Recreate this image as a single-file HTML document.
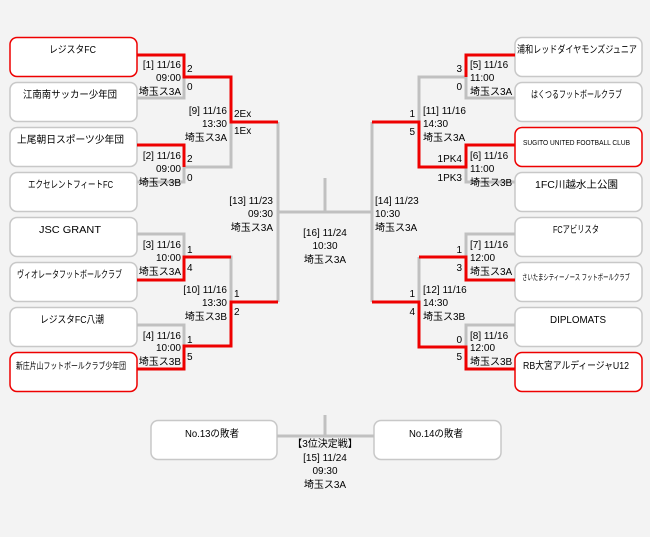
<!DOCTYPE html>
<html><head><meta charset="utf-8"><style>
html,body{margin:0;padding:0;background:#f3f3f3;}
svg{display:block;font-family:"Liberation Sans","Noto Sans CJK JP",sans-serif;font-size:10px;fill:#000;}
.b{fill:#fff;stroke:#c8c8c8;stroke-width:1.5}
.r{fill:#fff;stroke:#ee0000;stroke-width:1.5}
.g{stroke:#c0c0c0;stroke-width:3;fill:none}
.d{stroke:#ee0000;stroke-width:3;fill:none}
.e{text-anchor:end}.m{text-anchor:middle}
</style></head><body>
<svg width="650" height="537" xmlns="http://www.w3.org/2000/svg">
<rect class="r" x="10" y="37.5" width="127" height="39" rx="7"/>
<rect class="b" x="10" y="82.5" width="127" height="39" rx="7"/>
<rect class="b" x="10" y="127.5" width="127" height="39" rx="7"/>
<rect class="b" x="10" y="172.5" width="127" height="39" rx="7"/>
<rect class="b" x="10" y="217.5" width="127" height="39" rx="7"/>
<rect class="b" x="10" y="262.5" width="127" height="39" rx="7"/>
<rect class="b" x="10" y="307.5" width="127" height="39" rx="7"/>
<rect class="r" x="10" y="352.5" width="127" height="39" rx="7"/>
<rect class="b" x="515" y="37.5" width="127" height="39" rx="7"/>
<rect class="b" x="515" y="82.5" width="127" height="39" rx="7"/>
<rect class="r" x="515" y="127.5" width="127" height="39" rx="7"/>
<rect class="b" x="515" y="172.5" width="127" height="39" rx="7"/>
<rect class="b" x="515" y="217.5" width="127" height="39" rx="7"/>
<rect class="b" x="515" y="262.5" width="127" height="39" rx="7"/>
<rect class="b" x="515" y="307.5" width="127" height="39" rx="7"/>
<rect class="r" x="515" y="352.5" width="127" height="39" rx="7"/>
<rect class="b" x="151" y="420.5" width="126" height="39" rx="7"/>
<rect class="b" x="374" y="420.5" width="127" height="39" rx="7"/>

<path class="g" d="M137 98H184V77"/>
<path class="g" d="M137 182H184V167"/>
<path class="g" d="M137 234H184V257"/>
<path class="g" d="M137 325H184V346"/>
<path class="g" d="M184 167H231V122"/>
<path class="g" d="M184 257H231V302"/>
<path class="g" d="M278 122V302"/>
<path class="g" d="M278 212H372"/>
<path class="g" d="M325 178V212"/>
<path class="d" d="M137 55H184V77H231V122H278"/>
<path class="d" d="M137 145H184V167"/>
<path class="d" d="M137 280H184V257H231"/>
<path class="d" d="M137 369H184V346H231V302H278"/>
<path class="g" d="M515 98H466V77"/>
<path class="g" d="M515 182H466V167"/>
<path class="g" d="M515 234H466V257"/>
<path class="g" d="M515 325H466V346"/>
<path class="g" d="M466 77H419V122"/>
<path class="g" d="M419 257V302"/>
<path class="g" d="M372 122V302"/>
<path class="d" d="M515 55H466V77"/>
<path class="d" d="M515 145H466V167H419V122H372"/>
<path class="d" d="M515 280H466V257H419"/>
<path class="d" d="M515 369H466V347H419V302H372"/>
<path class="g" d="M277 436H374"/>
<path class="g" d="M325 415V436"/>

<text x="49" y="53" textLength="47" lengthAdjust="spacingAndGlyphs">レジスタFC</text>
<text x="23" y="98" textLength="94" lengthAdjust="spacingAndGlyphs">江南南サッカー少年団</text>
<text x="17" y="143" textLength="107" lengthAdjust="spacingAndGlyphs">上尾朝日スポーツ少年団</text>
<text x="28" y="188" textLength="85" lengthAdjust="spacingAndGlyphs">エクセレントフィートFC</text>
<text x="39" y="233" textLength="62" lengthAdjust="spacingAndGlyphs">JSC GRANT</text>
<text x="17" y="278" textLength="105" lengthAdjust="spacingAndGlyphs">ヴィオレータフットボールクラブ</text>
<text x="40" y="323" textLength="64" lengthAdjust="spacingAndGlyphs">レジスタFC八潮</text>
<text x="16" y="369" font-size="9" textLength="110" lengthAdjust="spacingAndGlyphs">新庄片山フットボールクラブ少年団</text>
<text x="517" y="53" textLength="120" lengthAdjust="spacingAndGlyphs">浦和レッドダイヤモンズジュニア</text>
<text x="531" y="98" textLength="91" lengthAdjust="spacingAndGlyphs">はくつるフットボールクラブ</text>
<text x="523" y="145" font-size="7" textLength="107" lengthAdjust="spacingAndGlyphs">SUGITO UNITED FOOTBALL CLUB</text>
<text x="535" y="188" textLength="83" lengthAdjust="spacingAndGlyphs">1FC川越水上公園</text>
<text x="553" y="233" textLength="46" lengthAdjust="spacingAndGlyphs">FCアビリスタ</text>
<text x="522" y="280" font-size="8" textLength="108" lengthAdjust="spacingAndGlyphs">さいたまシティーノース フットボールクラブ</text>
<text x="550" y="323" textLength="56" lengthAdjust="spacingAndGlyphs">DIPLOMATS</text>
<text x="523" y="369" textLength="106" lengthAdjust="spacingAndGlyphs">RB大宮アルディージャU12</text>
<text x="185" y="437" textLength="54" lengthAdjust="spacingAndGlyphs">No.13の敗者</text>
<text x="409" y="437" textLength="54" lengthAdjust="spacingAndGlyphs">No.14の敗者</text>

<text class="e" x="181" y="68">[1] 11/16</text><text class="e" x="181" y="81">09:00</text><text class="e" x="181" y="95">埼玉ス3A</text>
<text x="187" y="72">2</text><text x="187" y="90">0</text>
<text class="e" x="181" y="159">[2] 11/16</text><text class="e" x="181" y="172">09:00</text><text class="e" x="181" y="186">埼玉ス3B</text>
<text x="187" y="162">2</text><text x="187" y="181">0</text>
<text class="e" x="227" y="114">[9] 11/16</text><text class="e" x="227" y="127">13:30</text><text class="e" x="227" y="141">埼玉ス3A</text>
<text x="234" y="117">2Ex</text><text x="234" y="134">1Ex</text>
<text class="e" x="273" y="204">[13] 11/23</text><text class="e" x="273" y="217">09:30</text><text class="e" x="273" y="231">埼玉ス3A</text>
<text class="e" x="181" y="248">[3] 11/16</text><text class="e" x="181" y="261">10:00</text><text class="e" x="181" y="275">埼玉ス3A</text>
<text x="187" y="253">1</text><text x="187" y="271">4</text>
<text class="e" x="227" y="293">[10] 11/16</text><text class="e" x="227" y="306">13:30</text><text class="e" x="227" y="320">埼玉ス3B</text>
<text x="234" y="297">1</text><text x="234" y="315">2</text>
<text class="e" x="181" y="339">[4] 11/16</text><text class="e" x="181" y="351">10:00</text><text class="e" x="181" y="365">埼玉ス3B</text>
<text x="187" y="343">1</text><text x="187" y="360">5</text>
<text class="m" x="325" y="236">[16] 11/24</text><text class="m" x="325" y="249">10:30</text><text class="m" x="325" y="263">埼玉ス3A</text>
<text class="m" x="325" y="447">【3位決定戦】</text><text class="m" x="325" y="461">[15] 11/24</text><text class="m" x="325" y="474">09:30</text><text class="m" x="325" y="488">埼玉ス3A</text>
<text x="470" y="68">[5] 11/16</text><text x="470" y="81">11:00</text><text x="470" y="95">埼玉ス3A</text>
<text class="e" x="462" y="72">3</text><text class="e" x="462" y="90">0</text>
<text x="470" y="159">[6] 11/16</text><text x="470" y="172">11:00</text><text x="470" y="186">埼玉ス3B</text>
<text class="e" x="462" y="162">1PK4</text><text class="e" x="462" y="181">1PK3</text>
<text x="423" y="114">[11] 11/16</text><text x="423" y="127">14:30</text><text x="423" y="141">埼玉ス3A</text>
<text class="e" x="415" y="117">1</text><text class="e" x="415" y="135">5</text>
<text x="375" y="204">[14] 11/23</text><text x="375" y="217">10:30</text><text x="375" y="231">埼玉ス3A</text>
<text x="470" y="248">[7] 11/16</text><text x="470" y="261">12:00</text><text x="470" y="275">埼玉ス3A</text>
<text class="e" x="462" y="253">1</text><text class="e" x="462" y="271">3</text>
<text x="423" y="293">[12] 11/16</text><text x="423" y="306">14:30</text><text x="423" y="320">埼玉ス3B</text>
<text class="e" x="415" y="297">1</text><text class="e" x="415" y="315">4</text>
<text x="470" y="339">[8] 11/16</text><text x="470" y="351">12:00</text><text x="470" y="365">埼玉ス3B</text>
<text class="e" x="462" y="343">0</text><text class="e" x="462" y="360">5</text>
</svg>
</body></html>
